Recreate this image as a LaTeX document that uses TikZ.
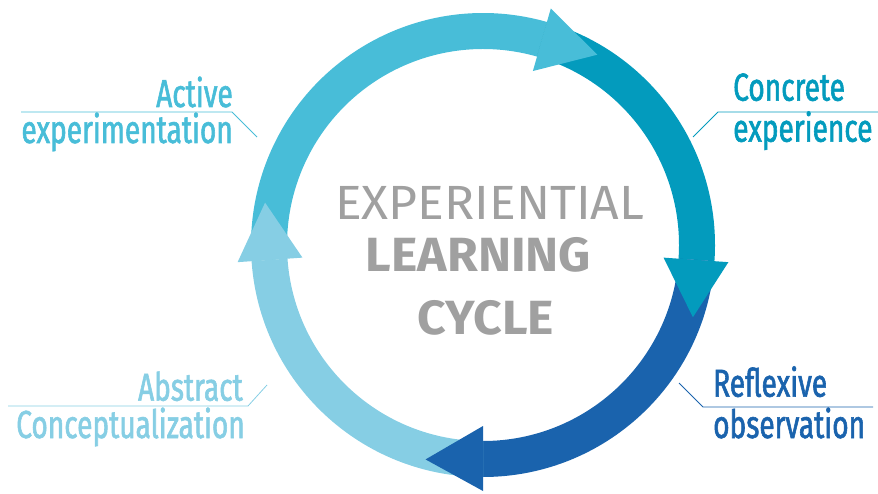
\documentclass[tikz,border=0pt]{standalone}
\usepackage{fontspec}
\usepackage{tikz}
\setmainfont{Fira Sans}
\newfontfamily\fonterotulo[FakeStretch=0.72, FakeBold=1.5]{Fira Sans}
\newfontfamily\fontetitulo[FakeStretch=1.04]{Fira Sans}
\definecolor{ativa}{HTML}{48BDD8}
\definecolor{concreta}{HTML}{039BBD}
\definecolor{reflexiva}{HTML}{1A63AD}
\definecolor{abstrata}{HTML}{86CEE4}
\definecolor{cinza}{HTML}{A0A0A0}

\begin{document}
\begin{tikzpicture}[x=1pt, y=1pt, %Escala em pontos
	rotulo/.style={font=\fonterotulo\fontsize{39}{39}\selectfont, inner sep=0pt},
	guia/.style={line width=0.8pt},
	titulo/.style={font=\fontetitulo\fontsize{48}{48}\selectfont, text=cinza, inner sep=0pt, anchor=base}]
	\useasboundingbox (0,0) rectangle (878,493); %Margens da figura
	\coordinate (centro) at (483,248); %Centro do ciclo
		%Faixas do anel
	\begin{scope}[shift={(centro)}]
		\fill[ativa] (184:232) arc[start angle=184, end angle=74, radius=232] -- (74:196) arc[start angle=74, end angle=184, radius=196] -- cycle;
		\fill[concreta] (74:232) arc[start angle=74, end angle=-4, radius=232] -- (-4:196) arc[start angle=-4, end angle=74, radius=196] -- cycle;
		\fill[reflexiva] (-4:232) arc[start angle=-4, end angle=-90, radius=232] -- (-90:196) arc[start angle=-90, end angle=-4, radius=196] -- cycle;
		\fill[abstrata] (-90:232) arc[start angle=-90, end angle=-176, radius=232] -- (-176:196) arc[start angle=-176, end angle=-90, radius=196] -- cycle;
			%Pontas das setas
		\fill[ativa] (74:181) -- (74:246) -- (59:222) -- cycle;
		\fill[concreta] (-4:181) -- (-4:246) -- (-19:222) -- cycle;
		\fill[reflexiva] (-90:181) -- (-90:246) -- (-105:222) -- cycle;
		\fill[abstrata] (184:181) -- (184:246) -- (169:222) -- cycle;
	\end{scope}
		%Texto central
	\node[titulo] (experiential) at (489.7,273.7) {EXPERIENTIAL};
	\node[titulo, font=\fontetitulo\fontsize{48}{48}\selectfont\bfseries] (learning) at (478.5,221.3) {LEARNING};
	\node[titulo, font=\fontetitulo\fontsize{48}{48}\selectfont\bfseries] (cycle) at (486,158) {CYCLE};
		%Rotulos
	\node[rotulo, text=ativa, anchor=base east] (ativa1) at (233,386) {Active};
	\node[rotulo, text=ativa, anchor=base east] (ativa2) at (233,350) {experimentation};
	\node[rotulo, text=concreta, anchor=base west] (concreta1) at (733,392.3) {Concrete};
	\node[rotulo, text=concreta, anchor=base west] (concreta2) at (733,351.3) {experience};
	\node[rotulo, text=reflexiva, anchor=base west] (reflexiva1) at (713,96.3) {Reflexive};
	\node[rotulo, text=reflexiva, anchor=base west] (reflexiva2) at (713,55) {observation};
	\node[rotulo, text=abstrata, anchor=base east] (abstrata1) at (243,92.3) {Abstract};
	\node[rotulo, text=abstrata, anchor=base east] (abstrata2) at (245,55) {Conceptualization};
		%Linhas guia
	\coordinate (ativa-a) at (21,381); \coordinate (ativa-b) at (232,381); \coordinate (ativa-c) at (257,356);
	\coordinate (concreta-a) at (693,356); \coordinate (concreta-b) at (718,381); \coordinate (concreta-c) at (878,381);
	\coordinate (reflexiva-a) at (679,110); \coordinate (reflexiva-b) at (703,86); \coordinate (reflexiva-c) at (873,86);
	\coordinate (abstrata-a) at (8,87); \coordinate (abstrata-b) at (248,87); \coordinate (abstrata-c) at (267,108);
	\draw[guia, ativa] (ativa-a) -- (ativa-b) -- (ativa-c);
	\draw[guia, concreta] (concreta-a) -- (concreta-b) -- (concreta-c);
	\draw[guia, reflexiva] (reflexiva-a) -- (reflexiva-b) -- (reflexiva-c);
	\draw[guia, abstrata] (abstrata-a) -- (abstrata-b) -- (abstrata-c);
\end{tikzpicture}
\end{document}
